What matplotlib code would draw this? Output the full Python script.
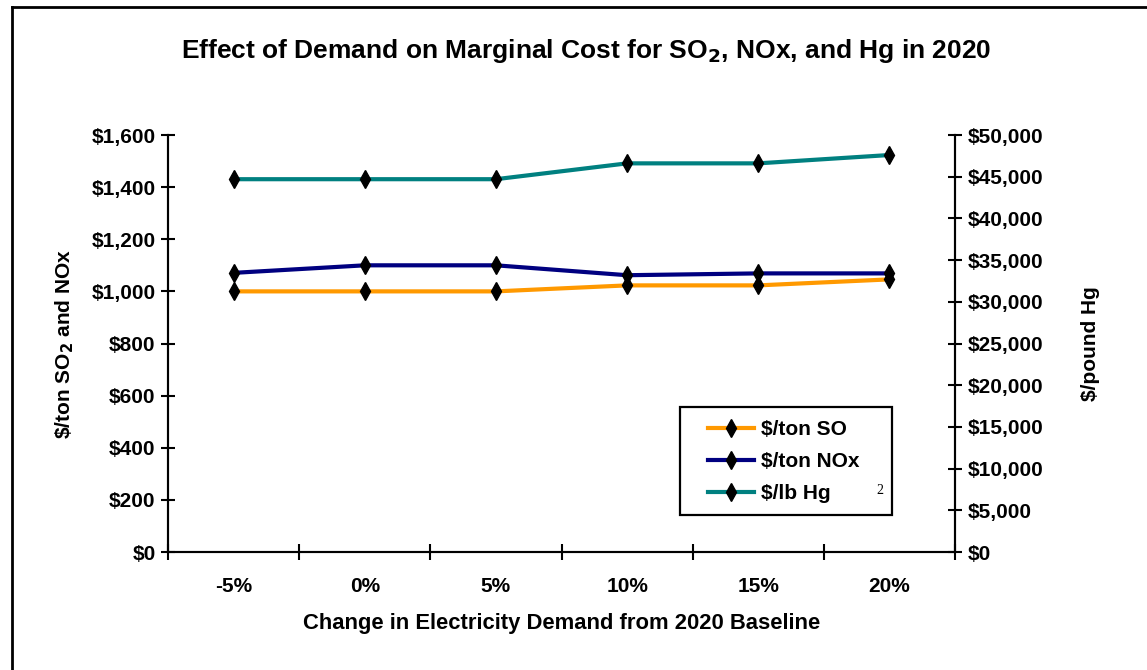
import matplotlib
matplotlib.use('Agg')
import matplotlib.pyplot as plt
from matplotlib.lines import Line2D
from matplotlib.patches import Rectangle
from matplotlib.ticker import FuncFormatter, FixedLocator

# data
demand_labels = ['-5%', '0%', '5%', '10%', '15%', '20%']
so2_cost = [1000, 1000, 1000, 1023, 1023, 1046]
nox_cost = [1071, 1100, 1100, 1062, 1069, 1069]
hg_cost = [44700, 44700, 44700, 46600, 46600, 47600]

plt.rcParams['font.family'] = ['Liberation Sans', 'DejaVu Sans']
plt.rcParams['font.weight'] = 'bold'
plt.rcParams['mathtext.default'] = 'bf'

W, H = 1147, 670
fig = plt.figure(figsize=(W / 100, H / 100), dpi=100)
ax = fig.add_axes([168 / W, 1 - 552 / H, (955 - 168) / W, (552 - 135) / H])
ax2 = ax.twinx()

xs = list(range(len(demand_labels)))
mk = dict(marker='d', markersize=9, markerfacecolor='black', markeredgecolor='black')
l1, = ax.plot(xs, so2_cost, color='#FF9900', lw=3, label='$/ton SO', **mk)
l2, = ax.plot(xs, nox_cost, color='#000080', lw=3, label='$/ton NOx', **mk)
l3, = ax2.plot(xs, hg_cost, color='#008080', lw=3, label='$/lb Hg', **mk)

ax.set_xlim(-0.5, len(xs) - 0.5)
ax.set_ylim(0, 1600)
ax2.set_ylim(0, 50000)
ax.set_yticks(range(0, 1601, 200))
ax2.set_yticks(range(0, 50001, 5000))
ax.yaxis.set_major_formatter(FuncFormatter(lambda v, p: f'${v:,.0f}'))
ax2.yaxis.set_major_formatter(FuncFormatter(lambda v, p: f'${v:,.0f}'))

# category boundaries get tick marks, labels sit in the middle
ax.xaxis.set_major_locator(FixedLocator([x - 0.5 for x in range(len(xs) + 1)]))
ax.xaxis.set_minor_locator(FixedLocator(xs))
ax.set_xticklabels([], minor=False)
ax.set_xticklabels(demand_labels, minor=True)
ax.tick_params(axis='x', which='major', direction='inout', length=12, width=1.5)
ax.tick_params(axis='x', which='minor', length=0, pad=18, labelsize=15)
ax.tick_params(axis='y', direction='inout', length=10, width=1.5, labelsize=15, pad=4)
ax2.tick_params(axis='y', direction='inout', length=10, width=1.5, labelsize=15, pad=4)

for a in (ax, ax2):
    a.spines['top'].set_visible(False)
    for s in ('left', 'right', 'bottom'):
        a.spines[s].set_linewidth(1.5)

ax.set_xlabel('Change in Electricity Demand from 2020 Baseline', fontsize=15.8,
              fontweight='bold', labelpad=12)
ax.set_ylabel('\\$/ton SO$_2$ and NOx', fontsize=15, fontweight='bold', labelpad=11)
ax2.set_ylabel('$/pound Hg', fontsize=15, fontweight='bold', labelpad=27)

fig.text(0.511, 1 - 51 / H, 'Effect of Demand on Marginal Cost for SO$_2$, NOx, and Hg in 2020',
         ha='center', va='center', fontsize=19, fontweight='bold')

# legend box drawn separately so it can keep the reference size
fig.add_artist(Rectangle((680 / W, 1 - 515 / H), 212 / W, 108 / H, transform=fig.transFigure,
                         facecolor='white', edgecolor='black', lw=1.6, zorder=5))
leg = fig.legend(handles=[l1, l2, l3], loc='upper left',
                 bbox_to_anchor=(708 / W, 1 - 420 / H), fontsize=15, frameon=False,
                 handlelength=2.2, borderpad=0, labelspacing=0.62, borderaxespad=0,
                 handletextpad=0.35)
leg.set_zorder(6)
fig.text(880 / W, 1 - 490 / H, '2', fontsize=10, fontweight='normal', family='Liberation Serif',
         color='black', ha='center', va='center', zorder=7)

# outer border (left and top edges visible)
fig.add_artist(Line2D([12 / W, 12 / W], [0, 1 - 7 / H], transform=fig.transFigure, color='black', lw=2))
fig.add_artist(Line2D([12 / W, 1], [1 - 7 / H, 1 - 7 / H], transform=fig.transFigure, color='black', lw=2))

fig.savefig('out.png', dpi=100)
